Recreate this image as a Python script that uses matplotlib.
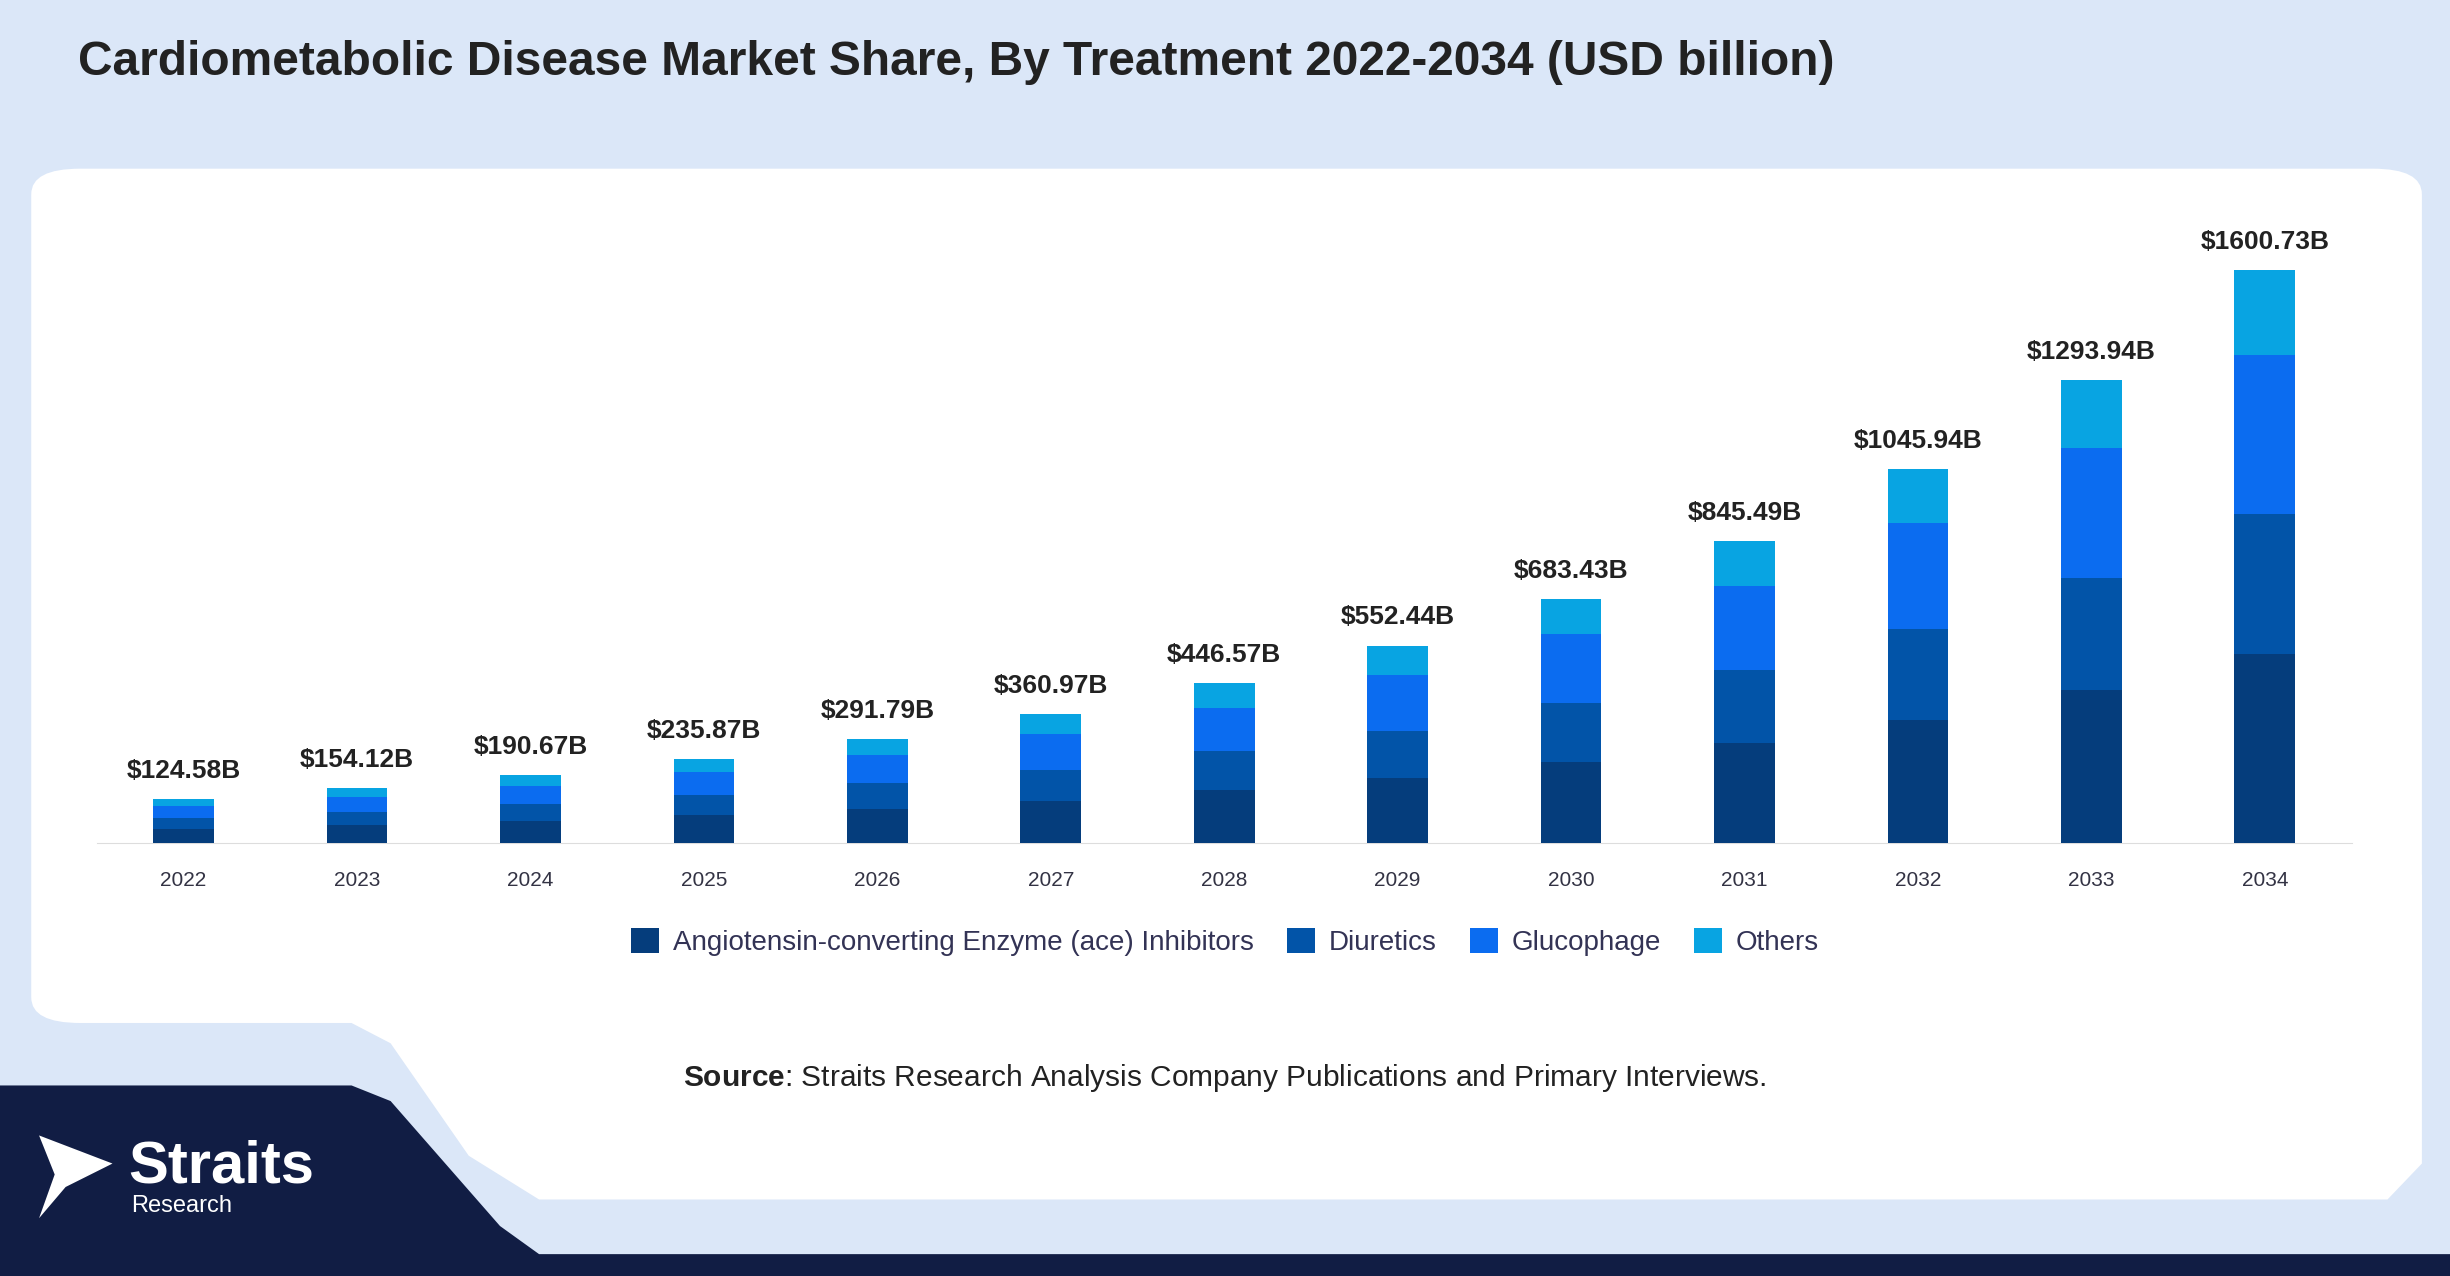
import matplotlib
matplotlib.use("Agg")
import matplotlib.pyplot as plt
from matplotlib.patches import FancyBboxPatch, Polygon

plt.rcParams['font.family'] = ['Liberation Sans', 'DejaVu Sans']
plt.rcParams['mathtext.fontset'] = 'custom'
plt.rcParams['mathtext.bf'] = 'Liberation Sans:bold'
plt.rcParams['mathtext.rm'] = 'Liberation Sans'

years = ["2022","2023","2024","2025","2026","2027","2028","2029","2030","2031","2032","2033","2034"]
totals = [124.58,154.12,190.67,235.87,291.79,360.97,446.57,552.44,683.43,845.49,1045.94,1293.94,1600.73]
ace = [41,51,63,78,97,118,148,183,227,279,345,427,528]
diuretics = [30,37,46,57,71,87,109,131,166,205,253,314,392]
glucophage = [34,42,52,65,80,100,122,157,192,236,297,362,445]
others = [t-a-d-g for t,a,d,g in zip(totals,ace,diuretics,glucophage)]
series = [("Angiotensin-converting Enzyme (ace) Inhibitors", ace, "#053d7c"),
          ("Diuretics", diuretics, "#0254a8"),
          ("Glucophage", glucophage, "#0b6cf0"),
          ("Others", others, "#08a4e2")]

W, H = 1568, 817
fig = plt.figure(figsize=(24.5, 12.76), dpi=100)
fig.patch.set_facecolor("#dbe7f8")
def fx(x): return x / W
def fy(y): return 1 - y / H

fig.patches.append(FancyBboxPatch((fx(20), fy(655)), fx(1550)-fx(20), fy(108)-fy(655),
    boxstyle="round,pad=0,rounding_size=0.02", transform=fig.transFigure,
    facecolor="white", edgecolor="none", zorder=-3))
pts = [(225,560),(1550,560),(1550,745),(1528,768),(345,768),(300,740),(250,668),(225,655)]
fig.patches.append(Polygon([(fx(x), fy(y)) for x,y in pts], closed=True, transform=fig.transFigure,
    facecolor="white", edgecolor="none", zorder=-3))
dark = [(0,695),(225,695),(250,705),(320,785),(345,803),(1568,803),(1568,817),(0,817)]
fig.patches.append(Polygon([(fx(x), fy(y)) for x,y in dark], closed=True, transform=fig.transFigure,
    facecolor="#111d44", edgecolor="none", zorder=-2))
logo = [(25,727),(72,745),(42,760),(25,780),(35,752)]
fig.patches.append(Polygon([(fx(x), fy(y)) for x,y in logo], closed=True, transform=fig.transFigure,
    facecolor="white", edgecolor="none", zorder=-1))
fig.text(fx(82), fy(747), "Straits", color="white", fontsize=43, fontweight="bold", va="center", ha="left")
fig.text(fx(84), fy(772), "Research", color="white", fontsize=17, va="center", ha="left")

fig.text(fx(50), fy(40), "Cardiometabolic Disease Market Share, By Treatment 2022-2034 (USD billion)",
         fontsize=34.5, fontweight="bold", color="#222222", va="center", ha="left")
fig.text(0.5, fy(690), r"$\bf{Source}$: Straits Research Analysis Company Publications and Primary Interviews.",
         fontsize=21.5, color="#222222", ha="center", va="center")

ax = fig.add_axes([fx(62), fy(540), fx(1505)-fx(62), fy(122)-fy(540)])
ax.set_zorder(5)
ax.set_facecolor("none")
x = range(len(years))
bottom = [0]*len(years)
for name, vals, c in series:
    ax.bar(x, vals, 0.35, bottom=bottom, color=c, label=name, zorder=3)
    bottom = [b+v for b,v in zip(bottom, vals)]
for i, t in enumerate(totals):
    ax.text(i, t + 45, f"${t:.2f}B", ha="center", va="bottom", fontsize=19, fontweight="bold", color="#222222")
ax.set_xlim(-0.5, len(years)-0.5)
ax.set_ylim(0, 1600.73*418/367)
ax.set_xticks(list(x))
ax.set_xticklabels(years, fontsize=15, color="#333344")
ax.tick_params(axis="x", length=0, pad=20)
ax.set_yticks([])
for s in ["top","right","left"]:
    ax.spines[s].set_visible(False)
ax.spines["bottom"].set_color("#dddddd")
leg = fig.legend(loc="center", bbox_to_anchor=(0.5, fy(603)), ncol=4, frameon=False,
                 fontsize=20, handlelength=1.0, handleheight=1.0, columnspacing=1.2, handletextpad=0.5)
for t in leg.get_texts():
    t.set_color("#333355")
fig.savefig("out.png", dpi=100, facecolor=fig.get_facecolor())
